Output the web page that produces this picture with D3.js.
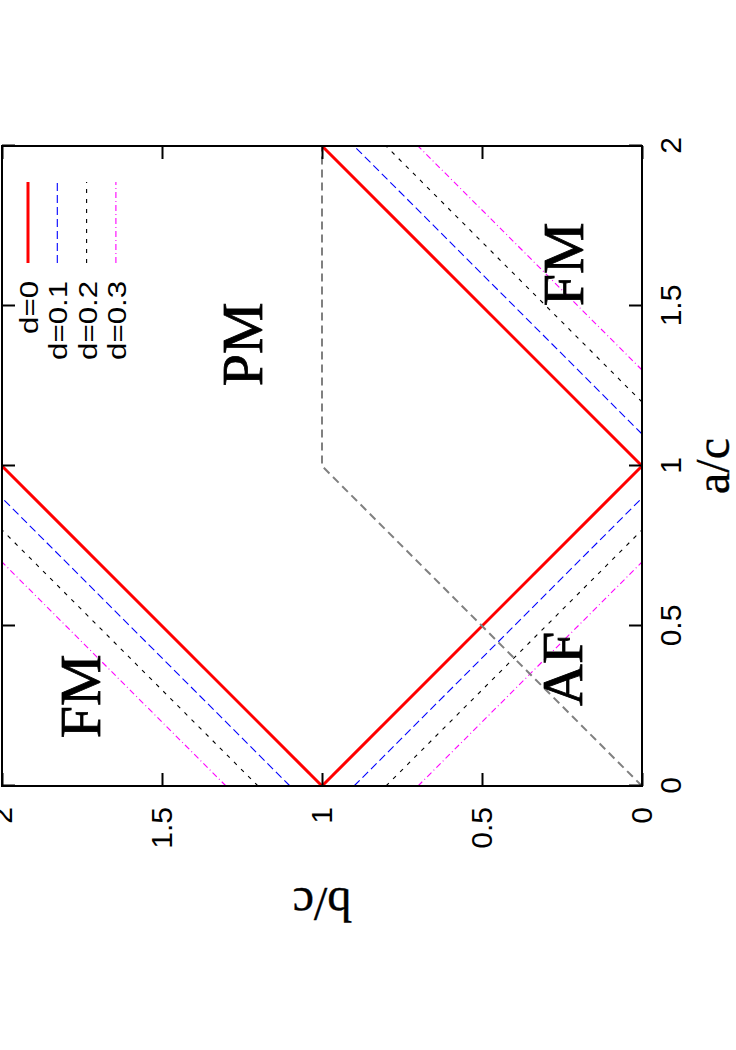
<!DOCTYPE html>
<html>
<head>
<meta charset="utf-8">
<script src="https://cdn.jsdelivr.net/npm/d3@7"></script>
<style>
  body { margin: 0; background: #fff; }
  svg { display: block; }
</style>
</head>
<body>
<svg id="chart" width="736" height="1050"></svg>
<script>
// ---------------- data ----------------
const seriesNames = ["d=0", "d=0.1", "d=0.2", "d=0.3"];
const seriesColors = ["#ff0000", "#0000ff", "#000000", "#ff00ff"];
const seriesWidths = [3, 1.1, 1.1, 1.1];
const seriesDashes = [null, "8,4", "4,6", "6,3,1,3"];

// boundary segments, points as [a/c, b/c]
const fmLeftBoundary = [
  [[0, 1.0], [1.0, 2]],
  [[0, 1.1], [0.9, 2]],
  [[0, 1.2], [0.8, 2]],
  [[0, 1.3], [0.7, 2]]
];
const afBoundary = [
  [[0, 1.0], [1.0, 0]],
  [[0, 0.9], [0.9, 0]],
  [[0, 0.8], [0.8, 0]],
  [[0, 0.7], [0.7, 0]]
];
const fmRightBoundary = [
  [[1.0, 0], [2, 1.0]],
  [[1.1, 0], [2, 0.9]],
  [[1.2, 0], [2, 0.8]],
  [[1.3, 0], [2, 0.7]]
];
const grayLine = [[0, 0], [1, 1], [2, 1]];

const tickValues = [0, 0.5, 1, 1.5, 2];
const tickLabels = ["0", "0.5", "1", "1.5", "2"];

const regionLabels = ["FM", "FM", "PM", "AF"];
const regionA = [1.63, 0.28, 1.38, 0.366];
const regionB = [0.185, 1.694, 1.1875, 0.1875];

const xLabel = "a/c";
const yLabel = "b/c";

// ---------------- drawing ----------------
const W = 640, H = 640;
const svg = d3.select("#chart");
// chart drawn in its native orientation, then turned a quarter turn
const g = svg.append("g").attr("transform", "translate(2,786) rotate(-90)");

const x = d3.scaleLinear().domain([0, 2]).range([0, W]);
const y = d3.scaleLinear().domain([0, 2]).range([H, 0]);
const line = d3.line().x(d => x(d[0])).y(d => y(d[1]));

const sansFont = "'Liberation Sans', Arial, Helvetica, sans-serif";
const serifFont = "'Liberation Serif', 'Times New Roman', serif";

// curves
seriesNames.forEach((name, i) => {
  [fmLeftBoundary[i], afBoundary[i], fmRightBoundary[i]].forEach(seg => {
    g.append("path")
      .attr("d", line(seg))
      .attr("fill", "none")
      .attr("stroke", seriesColors[i])
      .attr("stroke-width", seriesWidths[i])
      .attr("stroke-dasharray", seriesDashes[i]);
  });
});

g.append("path")
  .attr("d", line(grayLine))
  .attr("fill", "none")
  .attr("stroke", "#808080")
  .attr("stroke-width", 2)
  .attr("stroke-dasharray", "8,5");

// axes
const fmt = (d, i) => tickLabels[tickValues.indexOf(d)];
const xAxis = g.append("g").attr("transform", `translate(0,${H})`)
  .call(d3.axisBottom(x).tickValues(tickValues).tickFormat(fmt).tickSizeInner(-13).tickSizeOuter(0).tickPadding(18));
const yAxis = g.append("g")
  .call(d3.axisLeft(y).tickValues(tickValues).tickFormat(fmt).tickSizeInner(-13).tickSizeOuter(0).tickPadding(21));
const xAxisTop = g.append("g")
  .call(d3.axisTop(x).tickValues(tickValues).tickFormat("").tickSizeInner(-13).tickSizeOuter(0));
const yAxisRight = g.append("g").attr("transform", `translate(${W},0)`)
  .call(d3.axisRight(y).tickValues(tickValues).tickFormat("").tickSizeInner(-13).tickSizeOuter(0));

[xAxis, yAxis, xAxisTop, yAxisRight].forEach(ax => {
  ax.select(".domain").remove();
  ax.selectAll(".tick line").attr("stroke", "#000").attr("stroke-width", 2);
  ax.selectAll("text").attr("font-family", sansFont).attr("font-size", 30).attr("fill", "#000");
});

// frame
g.append("rect").attr("x", 0).attr("y", 0).attr("width", W).attr("height", H)
  .attr("fill", "none").attr("stroke", "#000").attr("stroke-width", 2);

// region labels
regionLabels.forEach((t, i) => {
  g.append("text")
    .attr("x", x(regionA[i])).attr("y", y(regionB[i]))
    .attr("text-anchor", "middle")
    .attr("font-family", serifFont).attr("font-size", 58)
    .attr("fill", "#000").attr("stroke", "#000").attr("stroke-width", 0.8)
    .text(t);
});

// axis titles
g.append("text")
  .attr("x", x(1)).attr("y", H + 87)
  .attr("text-anchor", "middle")
  .attr("font-family", serifFont).attr("font-size", 48)
  .attr("stroke", "#000").attr("stroke-width", 0.4)
  .text(xLabel);
g.append("text")
  .attr("transform", `translate(-102,${H / 2}) rotate(-90)`)
  .attr("text-anchor", "middle")
  .attr("font-family", serifFont).attr("font-size", 48)
  .attr("stroke", "#000").attr("stroke-width", 0.4)
  .text(yLabel);

// legend
const legend = g.append("g");
seriesNames.forEach((name, i) => {
  const ly = 26 + i * 29.3;
  legend.append("line")
    .attr("x1", 523).attr("x2", 604).attr("y1", ly).attr("y2", ly)
    .attr("stroke", seriesColors[i])
    .attr("stroke-width", seriesWidths[i])
    .attr("stroke-dasharray", seriesDashes[i]);
  legend.append("text")
    .attr("transform", `translate(505,${ly + 10}) scale(1.2,1)`)
    .attr("text-anchor", "end")
    .attr("font-family", sansFont).attr("font-size", 26)
    .attr("fill", "#000")
    .text(name);
});
</script>
</body>
</html>
